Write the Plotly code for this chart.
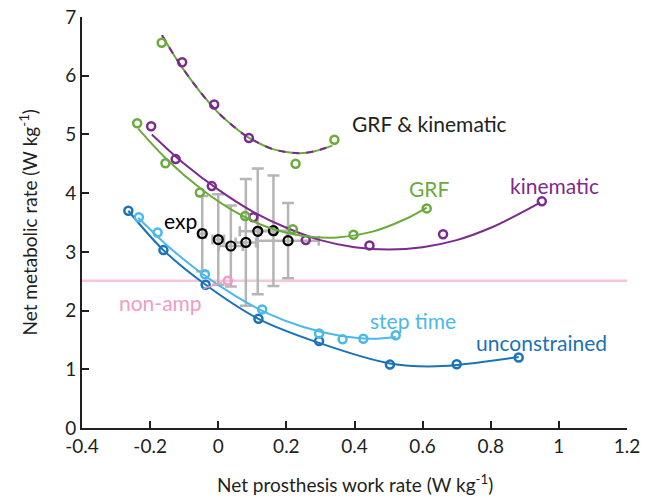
import plotly.graph_objects as go

# ---------------- data ----------------
GREEN = "#6aab3c"
PURPLE = "#7d2a8f"
LBLUE = "#4ab9e9"
DBLUE = "#1a72b9"
PINK = "#f09cc3"
PINKLINE = "#f7c6dc"
GRAY = "#b5b5b5"
INK = "#231f20"

# GRF & kinematic
gk_x = [-0.166, -0.106, -0.012, 0.090, 0.227, 0.341]
gk_y = [6.56, 6.23, 5.51, 4.94, 4.50, 4.91]
gk_fit_x = [-0.165, -0.12, -0.08, -0.04, 0.0, 0.04, 0.08, 0.12, 0.16, 0.20, 0.24, 0.28, 0.335]
gk_fit_y = [6.69, 6.26, 5.93, 5.63, 5.37, 5.16, 4.98, 4.85, 4.75, 4.70, 4.68, 4.71, 4.81]

# GRF
grf_x = [-0.238, -0.155, -0.054, 0.079, 0.219, 0.397, 0.612]
grf_y = [5.19, 4.51, 4.01, 3.61, 3.385, 3.29, 3.74]
grf_fit_x = [-0.235, -0.15, -0.05, 0.05, 0.15, 0.25, 0.35, 0.45, 0.55, 0.612]
grf_fit_y = [5.10, 4.57, 4.07, 3.68, 3.41, 3.27, 3.245, 3.34, 3.56, 3.755]

# kinematic
kin_x = [-0.197, -0.125, -0.019, 0.103, 0.257, 0.444, 0.660, 0.950]
kin_y = [5.14, 4.58, 4.12, 3.59, 3.20, 3.11, 3.30, 3.86]
kin_fit_x = [-0.195, -0.1, 0.0, 0.1, 0.2, 0.3, 0.4, 0.5, 0.6, 0.7, 0.8, 0.945]
kin_fit_y = [5.00, 4.50, 4.06, 3.69, 3.41, 3.20, 3.08, 3.04, 3.08, 3.20, 3.41, 3.84]

# step time
st_x = [-0.233, -0.178, -0.039, 0.129, 0.296, 0.365, 0.426, 0.521]
st_y = [3.59, 3.33, 2.62, 2.02, 1.61, 1.51, 1.52, 1.58]
st_fit_x = [-0.235, -0.15, -0.05, 0.05, 0.15, 0.25, 0.35, 0.45, 0.521]
st_fit_y = [3.58, 3.11, 2.64, 2.25, 1.94, 1.72, 1.58, 1.52, 1.55]

# unconstrained
un_x = [-0.264, -0.161, -0.037, 0.118, 0.296, 0.504, 0.700, 0.882]
un_y = [3.70, 3.03, 2.44, 1.86, 1.48, 1.08, 1.085, 1.20]
un_fit_x = [-0.264, -0.161, -0.037, 0.118, 0.296, 0.504, 0.640, 0.882]
un_fit_y = [3.70, 3.03, 2.44, 1.86, 1.45, 1.10, 1.05, 1.21]

# experiment
exp_x = [-0.047, 0.0, 0.037, 0.081, 0.116, 0.162, 0.205]
exp_y = [3.31, 3.21, 3.10, 3.16, 3.35, 3.36, 3.19]
exp_yerr = [0.64, 0.77, 0.69, 1.08, 1.07, 0.94, 0.64]
exp_xerr = [0.01, 0.017, 0.035, 0.03, 0.053, 0.04, 0.09]

# non-amputee
nonamp_x = [0.028]
nonamp_y = [2.51]
nonamp_level = 2.51

x_range = [-0.4, 1.2]
y_range = [0, 7]
x_ticks = [-0.4, -0.2, 0, 0.2, 0.4, 0.6, 0.8, 1, 1.2]
x_ticklabels = ["-0.4", "-0.2", "0", "0.2", "0.4", "0.6", "0.8", "1", "1.2"]
y_ticks = [0, 1, 2, 3, 4, 5, 6, 7]

FONT = "Lato"

fig = go.Figure()

# non-amp reference line
fig.add_trace(go.Scatter(x=x_range, y=[nonamp_level, nonamp_level], mode="lines",
                         line=dict(color=PINKLINE, width=2.5), hoverinfo="skip"))

# experiment error bars and points
fig.add_trace(go.Scatter(
    x=exp_x, y=exp_y, mode="markers",
    marker=dict(symbol="circle-open", size=9, color="black", line=dict(width=2.2)),
    error_y=dict(type="data", array=exp_yerr, color=GRAY, thickness=2.5, width=6),
    error_x=dict(type="data", array=exp_xerr, color=GRAY, thickness=2.5, width=5),
))

def fit(xs, ys, color, dash=None):
    fig.add_trace(go.Scatter(x=xs, y=ys, mode="lines", line_shape="spline",
                             line=dict(color=color, width=2, dash=dash), hoverinfo="skip"))

def pts(xs, ys, color):
    fig.add_trace(go.Scatter(x=xs, y=ys, mode="markers",
                             marker=dict(symbol="circle-open", size=8, color=color,
                                         line=dict(width=2.5))))

fit(un_fit_x, un_fit_y, DBLUE)
pts(un_x, un_y, DBLUE)
fit(st_fit_x, st_fit_y, LBLUE)
pts(st_x, st_y, LBLUE)
fit(kin_fit_x, kin_fit_y, PURPLE)
pts(kin_x, kin_y, PURPLE)
fit(grf_fit_x, grf_fit_y, GREEN)
pts(grf_x, grf_y, GREEN)

# GRF & kinematic: two-colour dashed fit
fit(gk_fit_x, gk_fit_y, GREEN)
fit(gk_fit_x, gk_fit_y, PURPLE, dash="7px,7px")
gk_colors = [GREEN, PURPLE, PURPLE, PURPLE, GREEN, GREEN]
fig.add_trace(go.Scatter(x=gk_x, y=gk_y, mode="markers",
                         marker=dict(symbol="circle-open", size=8, color=gk_colors,
                                     line=dict(width=2.5, color=gk_colors))))

# non-amp point
pts(nonamp_x, nonamp_y, PINK)

ann = [
    dict(text="GRF & kinematic", x=0.62, y=5.19, color=INK),
    dict(text="GRF", x=0.619, y=4.08, color=GREEN),
    dict(text="kinematic", x=0.986, y=4.13, color=PURPLE),
    dict(text="exp", x=-0.112, y=3.54, color="black"),
    dict(text="step time", x=0.572, y=1.83, color=LBLUE),
    dict(text="unconstrained", x=0.948, y=1.46, color=DBLUE),
]
for a in ann:
    fig.add_annotation(x=a["x"], y=a["y"], text=a["text"], showarrow=False,
                       font=dict(family=FONT, size=21, color=a["color"]))

fig.add_annotation(x=nonamp_x[0], y=nonamp_y[0], text="non-amp", showarrow=True,
                   arrowhead=0, arrowwidth=1.5, arrowcolor=PINK, ax=-67, ay=22,
                   standoff=6, xanchor="center",
                   font=dict(family=FONT, size=21, color=PINK))

# axis titles
fig.add_annotation(xref="paper", yref="paper", x=0.5, y=-0.134, yanchor="middle",
                   text="Net prosthesis work rate (W kg<sup>-1</sup>)", showarrow=False,
                   font=dict(family=FONT, size=19, color=INK))
fig.add_annotation(xref="paper", yref="paper", x=-0.099, y=0.5, xanchor="center",
                   textangle=-90,
                   text="Net metabolic rate (W kg<sup>-1</sup>)", showarrow=False,
                   font=dict(family=FONT, size=19, color=INK))

fig.update_layout(
    width=668, height=498,
    margin=dict(l=74, r=49, t=9, b=78, autoexpand=False),
    plot_bgcolor="white", paper_bgcolor="white",
    showlegend=False,
    font=dict(family=FONT, size=18, color=INK),
    xaxis=dict(range=x_range, tickvals=x_ticks, ticktext=x_ticklabels,
               showgrid=False, zeroline=False, showline=True, linecolor=INK,
               linewidth=2, ticks="inside", ticklen=7, tickwidth=2, tickcolor=INK,
               tickfont=dict(size=19), automargin=False, ticklabeloverflow="allow"),
    yaxis=dict(range=y_range, tickvals=y_ticks,
               showgrid=False, zeroline=False, showline=True, linecolor=INK,
               linewidth=2, ticks="inside", ticklen=7, tickwidth=2, tickcolor=INK,
               tickfont=dict(size=19), automargin=False, ticklabeloverflow="allow"),
)

fig.write_html("out.html")
